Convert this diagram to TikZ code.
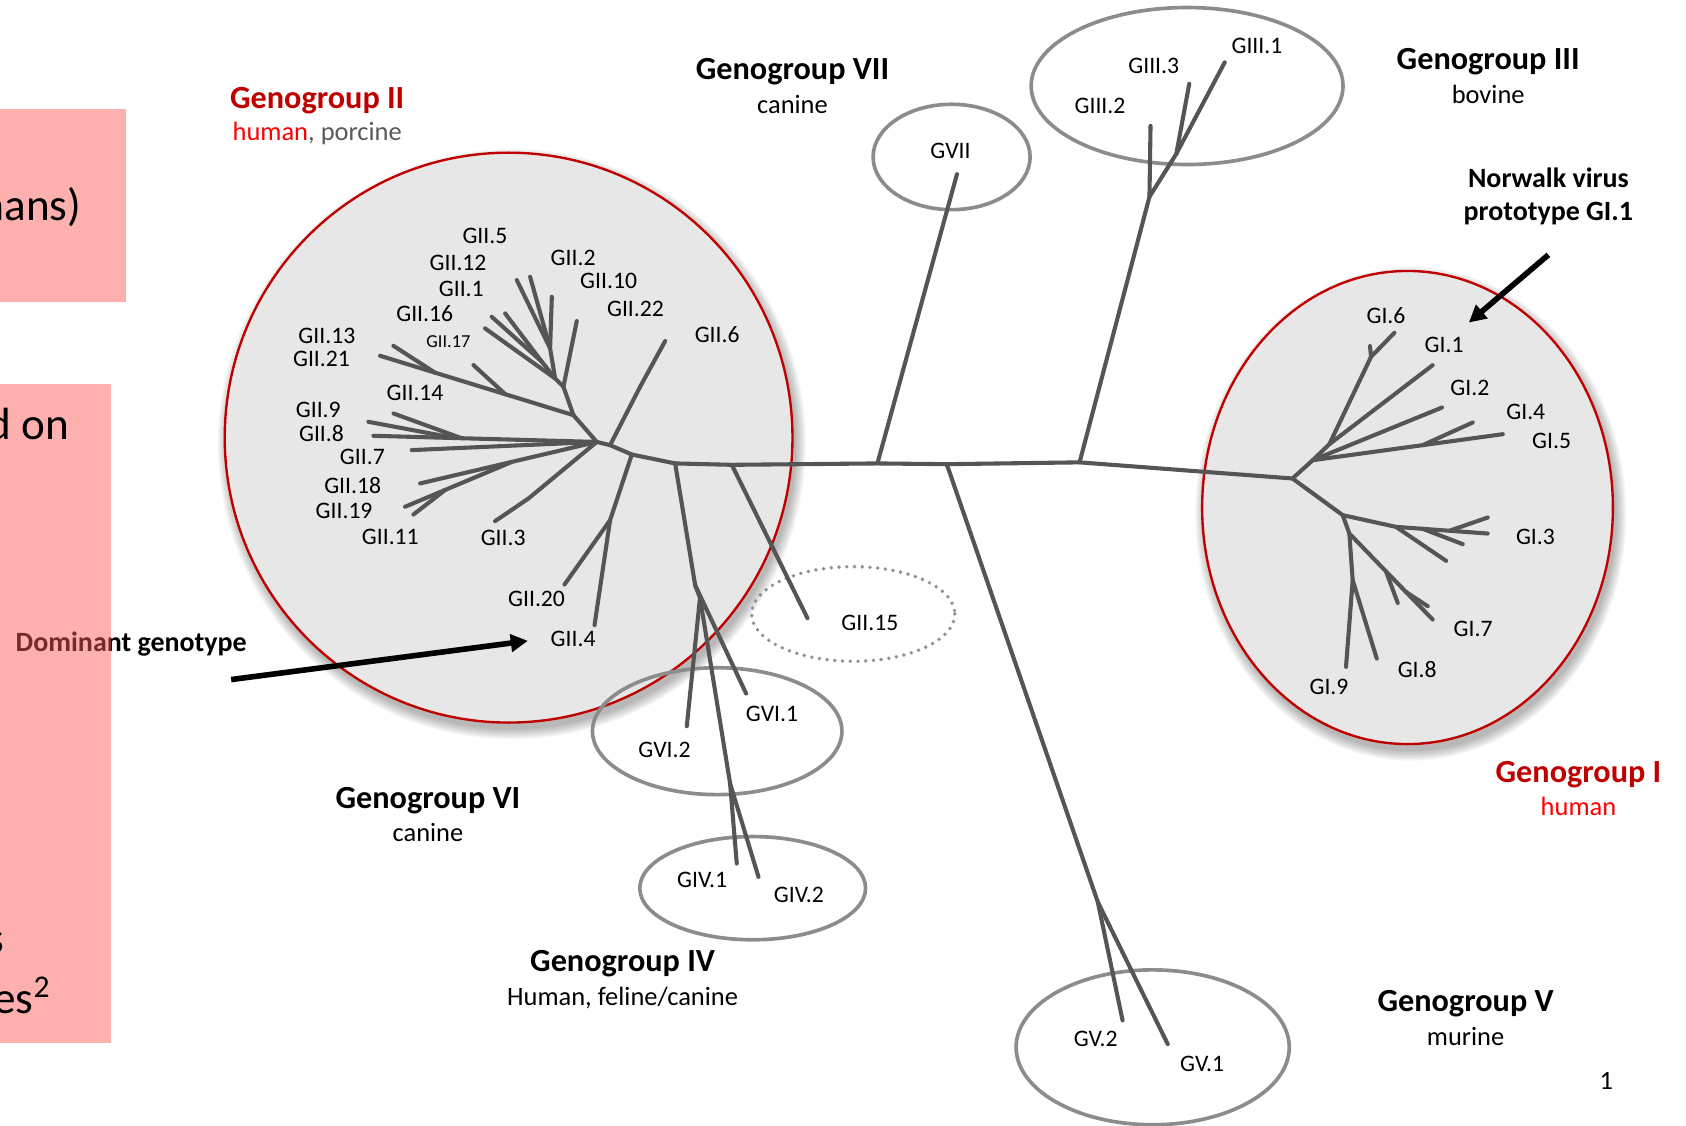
\documentclass[tikz,border=0pt]{standalone}
\usepackage{fontspec}
\setmainfont{Carlito}
\usetikzlibrary{arrows.meta}
\definecolor{brc}{RGB}{85,85,85}
\definecolor{ellg}{RGB}{140,140,140}
\definecolor{dotg}{RGB}{145,145,145}
\definecolor{dred}{RGB}{192,0,0}
\definecolor{bred}{RGB}{255,0,0}
\definecolor{fillg}{RGB}{231,231,231}
\definecolor{pinkov}{RGB}{250,90,86}
\definecolor{porc}{RGB}{89,89,89}
\begin{document}
\begin{tikzpicture}[x=0.5pt,y=-0.5pt,
  br/.style={draw=brc,line width=1.9pt,line cap=round,line join=round},
  gell/.style={draw=ellg,line width=1.7pt},
  rell/.style={draw=dred,line width=1.1pt,fill=fillg},
  lb/.style={font=\fontsize{11}{13}\selectfont,inner sep=0pt,text depth=0pt},
  lbs/.style={font=\fontsize{8.5}{10}\selectfont,inner sep=0pt,text depth=0pt},
  hd/.style={font=\bfseries\fontsize{15}{18}\selectfont,inner sep=0pt,text depth=0pt},
  sb/.style={font=\fontsize{12.3}{15}\selectfont,inner sep=0pt,text depth=0pt},
  nt/.style={font=\bfseries\fontsize{13}{16}\selectfont,inner sep=0pt,text depth=0pt},
  big/.style={font=\fontsize{21}{25}\selectfont,inner sep=0pt,anchor=base east},
  arr/.style={line width=2.6pt,-{Triangle[length=8pt,width=8pt]}},
]
\useasboundingbox (0,0) rectangle (1568,1047);

% ---------- shadows and red ellipses ----------
\foreach \k in {1,...,8}{
  \fill[black,opacity=0.04] (476,413) ellipse [x radius={263+\k*1.3}, y radius={264+\k*1.3}];
  \fill[black,opacity=0.04] (1312,478) ellipse [x radius={190+\k*1.3}, y radius={219+\k*1.3}];
}
\draw[rell] (473,407) ellipse [x radius=264, y radius=265];
\draw[rell] (1309,472) ellipse [x radius=191, y radius=220];

% ---------- grey ellipses ----------
\draw[gell] (885,146) ellipse [x radius=73, y radius=49];
\draw[gell] (1104,80) ellipse [x radius=145, y radius=73];
\draw[gell] (667,680) ellipse [x radius=116, y radius=59];
\draw[gell] (700,826) ellipse [x radius=105, y radius=48];
\draw[gell] (1072,974) ellipse [x radius=127, y radius=72];
\draw[draw=dotg,line width=1.8pt,line cap=round,dash pattern=on 0pt off 3.6pt] (793.5,571) ellipse [x radius=94.5, y radius=44];

% ---------- tree coordinates ----------
\coordinate (R) at (555,411);
\coordinate (b1) at (567.4,414);
\coordinate (b2) at (587.6,422.7);
\coordinate (b3) at (627.9,431);
\coordinate (b4) at (680.6,432.3);
\coordinate (b5) at (816,431);
\coordinate (b6) at (880.5,431.7);
\coordinate (b7) at (1004,430);
\coordinate (GIr) at (1202,445);
% GII.6
\coordinate (s6a) at (595.3,359.7);
\coordinate (e6) at (618.6,317.2);
% GII.4 / GII.20
\coordinate (n4) at (567.4,483.7);
\coordinate (e4) at (552.9,581.4);
\coordinate (e20) at (525,543.6);
% GVI / GIV
\coordinate (N1) at (646.5,544.2);
\coordinate (eVIa) at (693.9,645);
\coordinate (m1) at (651,556);
\coordinate (eVIb) at (638.7,675.4);
\coordinate (m2) at (679,728.7);
\coordinate (eIVa) at (685.2,803.1);
\coordinate (eIVb) at (705.4,815.5);
% GII.15, GVII, GV, GIII
\coordinate (e15) at (751,575);
\coordinate (eVII) at (890,162);
\coordinate (s5) at (1021,839);
\coordinate (eVb) at (1044,949);
\coordinate (eVa) at (1086,971);
\coordinate (g3a) at (1069,183);
\coordinate (eIIIb) at (1070,117);
\coordinate (g3b) at (1094,143);
\coordinate (eIIIc) at (1106,78);
\coordinate (eIIIa) at (1139,58);
% GII upper fan
\coordinate (u1) at (533.3,386.1);
\coordinate (u2) at (524,359.7);
\coordinate (e22) at (536.4,298.6);
\coordinate (A) at (516.3,352);
\coordinate (B) at (511.6,324);
\coordinate (e10) at (513.2,276);
\coordinate (e2a) at (493,257.4);
\coordinate (e2b) at (480.6,260.5);
\coordinate (C) at (503.9,336.4);
\coordinate (e1a) at (469.8,291.5);
\coordinate (e1b) at (457.3,294.6);
\coordinate (e16) at (451.1,305.4);
\coordinate (e21) at (353.5,330.9);
\coordinate (j13) at (404.6,346.6);
\coordinate (e13) at (365.9,321.6);
\coordinate (j17) at (470,366.7);
\coordinate (e17) at (440.3,339.5);
% GII middle
\coordinate (e8) at (347.3,405.3);
\coordinate (j9) at (423.2,407.4);
\coordinate (e9) at (342.6,392.3);
\coordinate (j14) at (429.4,407.6);
\coordinate (e14) at (365.9,384.5);
\coordinate (e7) at (382.9,418.6);
% GII lower
\coordinate (e18) at (390.7,449.6);
\coordinate (j19) at (476,429.6);
\coordinate (e19) at (376.7,471.3);
\coordinate (j11) at (413.9,455.8);
\coordinate (e11) at (384.5,478.5);
\coordinate (j3) at (491.5,463.6);
\coordinate (e3) at (460.4,484.7);
% GI
\coordinate (U1) at (1220.8,428);
\coordinate (U2) at (1236.3,413.1);
\coordinate (g6) at (1275.1,331.8);
\coordinate (i6) at (1296.8,309.5);
\coordinate (tk) at (1274.1,321.9);
\coordinate (i1) at (1332.4,339.6);
\coordinate (i2) at (1341.1,379);
\coordinate (i5) at (1397.6,403.8);
\coordinate (ji4) at (1323.1,414);
\coordinate (i4) at (1369.7,392.9);
\coordinate (L1) at (1248.7,479.1);
\coordinate (L1b) at (1298.3,490);
\coordinate (i3a) at (1383.6,496.2);
\coordinate (ji3b) at (1348,493.6);
\coordinate (i3b) at (1383.6,481.3);
\coordinate (ji3c) at (1323.1,491.8);
\coordinate (i3c) at (1360.4,506.1);
\coordinate (i3d) at (1344.9,521.6);
\coordinate (L2) at (1254.9,496.2);
\coordinate (i7) at (1332.4,576.2);
\coordinate (ji7a) at (1289,531.4);
\coordinate (i7a) at (1299.9,560.7);
\coordinate (ji7b) at (1307.6,550.6);
\coordinate (i7b) at (1327.8,563.8);
\coordinate (L3) at (1258,539.6);
\coordinate (i9) at (1251.8,620.2);
\coordinate (i8) at (1280.4,612.5);

% ---------- branches ----------
\draw[br] (R) -- (b1) -- (b2) -- (b3) -- (b4) -- (b5) -- (b6) -- (b7) -- (GIr);
\draw[br] (b1) -- (s6a) -- (e6);
\draw[br] (b2) -- (n4) -- (e4);
\draw[br] (n4) -- (e20);
\draw[br] (b3) -- (N1) -- (eVIa);
\draw[br] (N1) -- (m1) -- (eVIb);
\draw[br] (m1) -- (m2) -- (eIVa);
\draw[br] (m2) -- (eIVb);
\draw[br] (b4) -- (e15);
\draw[br] (b5) -- (eVII);
\draw[br] (b6) -- (s5) -- (eVb);
\draw[br] (s5) -- (eVa);
\draw[br] (b7) -- (g3a) -- (eIIIb);
\draw[br] (g3a) -- (g3b) -- (eIIIc);
\draw[br] (g3b) -- (eIIIa);
\draw[br] (R) -- (u1) -- (u2) -- (A) -- (B) -- (e10);
\draw[br] (u2) -- (e22);
\draw[br] (B) -- (e2a);
\draw[br] (B) -- (e2b);
\draw[br] (A) -- (C) -- (e1a);
\draw[br] (C) -- (e1b);
\draw[br] (A) -- (e16);
\draw[br] (u1) -- (e21);
\draw[br] (j13) -- (e13);
\draw[br] (j17) -- (e17);
\draw[br] (R) -- (e8);
\draw[br] (j9) -- (e9);
\draw[br] (j14) -- (e14);
\draw[br] (R) -- (e7);
\draw[br] (R) -- (e18);
\draw[br] (j19) -- (e19);
\draw[br] (j11) -- (e11);
\draw[br] (R) -- (j3) -- (e3);
\draw[br] (GIr) -- (U1) -- (U2) -- (g6) -- (i6);
\draw[br] (tk) -- (g6);
\draw[br] (U2) -- (i1);
\draw[br] (U1) -- (i2);
\draw[br] (U1) -- (i5);
\draw[br] (ji4) -- (i4);
\draw[br] (GIr) -- (L1) -- (L1b) -- (i3a);
\draw[br] (ji3b) -- (i3b);
\draw[br] (ji3c) -- (i3c);
\draw[br] (L1b) -- (i3d);
\draw[br] (L1) -- (L2) -- (i7);
\draw[br] (ji7a) -- (i7a);
\draw[br] (ji7b) -- (i7b);
\draw[br] (L2) -- (L3) -- (i9);
\draw[br] (L3) -- (i8);

% ---------- labels GII ----------
\node[lb] (t25) at (451,219) {GII.5};
\node[lb] (t212) at (426,244) {GII.12};
\node[lb] (t21) at (429,269) {GII.1};
\node[lb] (t216) at (395,292) {GII.16};
\node[lbs] (t217) at (417,318) {GII.17};
\node[lb] (t22) at (533,240) {GII.2};
\node[lb] (t210) at (566,261) {GII.10};
\node[lb] (t222) at (591,287) {GII.22};
\node[lb] (t26) at (667,311) {GII.6};
\node[lb] (t213) at (304,312) {GII.13};
\node[lb] (t221) at (299,334) {GII.21};
\node[lb] (t214) at (386,365) {GII.14};
\node[lb] (t29) at (296,381) {GII.9};
\node[lb] (t28) at (299,403) {GII.8};
\node[lb] (t27) at (337,425) {GII.7};
\node[lb] (t218) at (328,451) {GII.18};
\node[lb] (t219) at (320,475) {GII.19};
\node[lb] (t211) at (363,499) {GII.11};
\node[lb] (t23) at (468,500) {GII.3};
\node[lb] (t220) at (499,557) {GII.20};
\node[lb] (t24) at (533,594) {GII.4};
\node[lb] (t215) at (809,579) {GII.15};
% GI
\node[lb] (t16) at (1289,293) {GI.6};
\node[lb] (t11) at (1343,321) {GI.1};
\node[lb] (t12) at (1367,361) {GI.2};
\node[lb] (t14) at (1419,383) {GI.4};
\node[lb] (t15) at (1443,410) {GI.5};
\node[lb] (t13) at (1428,499) {GI.3};
\node[lb] (t17) at (1370,585) {GI.7};
\node[lb] (t18) at (1318,623) {GI.8};
\node[lb] (t19) at (1236,639) {GI.9};
% others
\node[lb] (tVII) at (884,140) {GVII};
\node[lb] (tIII1) at (1169,43) {GIII.1};
\node[lb] (tIII3) at (1073,61) {GIII.3};
\node[lb] (tIII2) at (1023,98) {GIII.2};
\node[lb] (tVI1) at (718,664) {GVI.1};
\node[lb] (tVI2) at (618,697) {GVI.2};
\node[lb] (tIV1) at (653,818) {GIV.1};
\node[lb] (tIV2) at (743,832) {GIV.2};
\node[lb] (tV2) at (1019,966) {GV.2};
\node[lb] (tV1) at (1118,989) {GV.1};

% ---------- headers ----------
\node[hd,text=dred] (h2) at (295,91) {Genogroup II};
\node[sb] (s2) at (295,122) {\textcolor{bred}{human}\textcolor{porc}{, porcine}};
\node[hd] (h7) at (737,64) {Genogroup VII};
\node[sb] (s7) at (737,97) {canine};
\node[hd] (h3) at (1384,55) {Genogroup III};
\node[sb] (s3) at (1384,88) {bovine};
\node[nt] (nw1) at (1440,165) {Norwalk virus};
\node[nt] (nw2) at (1440,197) {prototype GI.1};
\node[hd,text=dred] (h1) at (1468,718) {Genogroup I};
\node[sb,text=bred] (s1) at (1468,750) {human};
\node[hd] (h5) at (1363,931) {Genogroup V};
\node[sb] (s5t) at (1363,964) {murine};
\node[hd] (h4) at (579,894) {Genogroup IV};
\node[sb] (s4) at (579,927) {Human, feline/canine};
\node[hd] (h6) at (398,742) {Genogroup VI};
\node[sb] (s6) at (398,774) {canine};
\node[sb] (pg) at (1494,1005) {1};

% ---------- arrows ----------
\coordinate (da) at (215,632);
\coordinate (db) at (491,596);
\draw[arr] (da) -- (db);
\coordinate (na) at (1440,237);
\coordinate (nb) at (1366,300);
\draw[arr] (na) -- (nb);
\node[nt] (dom) at (122,597) {Dominant genotype};

% ---------- pink overlay boxes ----------
\fill[pinkov,opacity=0.48] (0,101) rectangle (117,281);
\fill[pinkov,opacity=0.48] (0,357) rectangle (103,970);
\node[big] (bx1) at (76,204.7) {mans)};
\node[big] (bx2) at (65,408.7) {d on};
\node[big] (bx3) at (4,887) {s};
\node[big] (bx4) at (47.5,943) {es\textsuperscript{2}};
\end{tikzpicture}
\end{document}
